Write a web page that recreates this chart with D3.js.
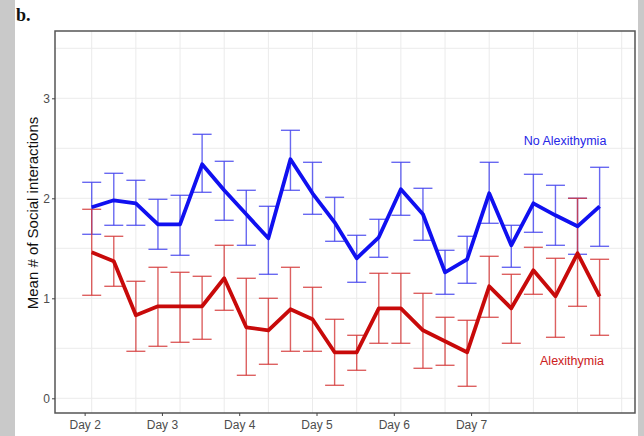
<!DOCTYPE html>
<html>
<head>
<meta charset="utf-8">
<script src="https://cdn.jsdelivr.net/npm/d3@7"></script>
<style>
  html, body { margin: 0; padding: 0; background: #fff; }
  svg { display: block; }
</style>
</head>
<body>
<script>
// ---- data ----
const obsIndex = d3.range(1, 25); // 24 observations
const noAlexMean = [1.91,1.98,1.95,1.74,1.74,2.34,2.08,1.84,1.60,2.39,2.05,1.76,1.40,1.61,2.09,1.84,1.26,1.39,2.05,1.53,1.95,1.83,1.72,1.92];
const noAlexHigh = [2.16,2.25,2.18,1.99,2.03,2.64,2.37,2.08,1.92,2.68,2.36,2.01,1.63,1.79,2.36,2.10,1.48,1.62,2.36,1.73,2.24,2.13,2.00,2.31];
const noAlexLow  = [1.64,1.73,1.73,1.49,1.43,2.06,1.78,1.53,1.24,2.08,1.84,1.57,1.16,1.41,1.83,1.58,1.04,1.15,1.75,1.31,1.66,1.53,1.44,1.52];
const alexMean = [1.46,1.37,0.83,0.92,0.92,0.92,1.20,0.71,0.68,0.89,0.79,0.46,0.46,0.90,0.90,0.68,0.57,0.46,1.12,0.90,1.28,1.02,1.45,1.02];
const alexHigh = [1.89,1.62,1.17,1.31,1.26,1.22,1.53,1.20,1.00,1.31,1.11,0.79,0.63,1.25,1.25,1.05,0.81,0.78,1.42,1.24,1.51,1.40,2.00,1.39];
const alexLow  = [1.03,1.12,0.47,0.52,0.56,0.59,0.88,0.23,0.34,0.47,0.47,0.13,0.28,0.55,0.55,0.30,0.33,0.12,0.81,0.55,1.04,0.61,0.92,0.63];
const dayLabels = ["Day 2","Day 3","Day 4","Day 5","Day 6","Day 7"];
const dayTickPos = [0.68, 4.18, 7.68, 11.18, 14.68, 18.18];
const yTicks = [0, 1, 2, 3];
const xGrid = d3.range(1, 26, 2);
const yGrid = [0, 0.5, 1, 1.5, 2, 2.5, 3, 3.5];

// ---- layout ----
const W = 644, H = 436;
const svg = d3.select("body").append("svg").attr("width", W).attr("height", H);
svg.append("rect").attr("width", W).attr("height", H).attr("fill", "#fff");
svg.append("rect").attr("x", 0).attr("y", 0).attr("width", 15).attr("height", H).attr("fill", "#c9c9c9");
svg.append("rect").attr("x", 638).attr("y", 0).attr("width", 6).attr("height", H).attr("fill", "#c9c9c9");

const panel = {left: 55, right: 635, top: 31, bottom: 413};
const x = d3.scaleLinear().domain([1, 25]).range([91.7, 621.7]);
const y = d3.scaleLinear().domain([0, 3]).range([398.3, 98.3]);

// gridlines
const g = svg.append("g");
g.selectAll(".vg").data(xGrid).join("line")
  .attr("x1", d => x(d)).attr("x2", d => x(d))
  .attr("y1", panel.top).attr("y2", panel.bottom)
  .attr("stroke", "#ebebeb").attr("stroke-width", 1);
g.selectAll(".hg").data(yGrid).join("line")
  .attr("y1", d => y(d)).attr("y2", d => y(d))
  .attr("x1", panel.left).attr("x2", panel.right)
  .attr("stroke", "#ebebeb").attr("stroke-width", 1);

// error bars
function errorBars(means, lows, highs, color, opacity) {
  const eg = svg.append("g").attr("stroke", color).attr("stroke-opacity", opacity).attr("stroke-width", 1.4).attr("fill", "none");
  const cap = 9.5;
  obsIndex.forEach((idx, i) => {
    const cx = x(idx);
    eg.append("line").attr("x1", cx).attr("x2", cx).attr("y1", y(lows[i])).attr("y2", y(highs[i]));
    eg.append("line").attr("x1", cx - cap).attr("x2", cx + cap).attr("y1", y(lows[i])).attr("y2", y(lows[i]));
    eg.append("line").attr("x1", cx - cap).attr("x2", cx + cap).attr("y1", y(highs[i])).attr("y2", y(highs[i]));
  });
}
errorBars(noAlexMean, noAlexLow, noAlexHigh, "#4444ee", 0.8);
errorBars(alexMean, alexLow, alexHigh, "#d43a3a", 0.8);

const line = d3.line().x((d, i) => x(obsIndex[i])).y(d => y(d));
svg.append("path").datum(noAlexMean).attr("d", line)
  .attr("fill", "none").attr("stroke", "#1010f0").attr("stroke-width", 3.8).attr("stroke-linejoin", "round");
svg.append("path").datum(alexMean).attr("d", line)
  .attr("fill", "none").attr("stroke", "#c80a0a").attr("stroke-width", 3.8).attr("stroke-linejoin", "round");

// panel border
svg.append("rect").attr("x", panel.left).attr("y", panel.top)
  .attr("width", panel.right - panel.left).attr("height", panel.bottom - panel.top)
  .attr("fill", "none").attr("stroke", "#555").attr("stroke-width", 1.5);

// axes
const yAxis = d3.axisLeft(y).tickValues(yTicks).tickSize(3).tickPadding(2).tickFormat(d3.format("d"));
const ya = svg.append("g").attr("transform", `translate(${panel.left},0)`).call(yAxis);
ya.select(".domain").remove();
ya.selectAll(".tick line").attr("stroke", "#444");
ya.selectAll("text").attr("fill", "#4d4d4d").style("font-family", "Liberation Sans, Arial, sans-serif").style("font-size", "12px");

const xAxis = d3.axisBottom(x).tickValues(dayTickPos).tickFormat((d, i) => dayLabels[i]).tickSize(3).tickPadding(4);
const xa = svg.append("g").attr("transform", `translate(0,${panel.bottom})`).call(xAxis);
xa.select(".domain").remove();
xa.selectAll(".tick line").attr("stroke", "#444");
xa.selectAll("text").attr("fill", "#4d4d4d").style("font-family", "Liberation Sans, Arial, sans-serif").style("font-size", "12px");

// axis title
svg.append("text").attr("transform", "translate(38,213) rotate(-90)")
  .attr("text-anchor", "middle").attr("fill", "#111")
  .style("font-family", "Liberation Sans, Arial, sans-serif").style("font-size", "15px")
  .text("Mean # of Social interactions");

// series labels
svg.append("text").attr("x", 565).attr("y", 145).attr("text-anchor", "middle")
  .attr("fill", "#2626e6").style("font-family", "Liberation Sans, Arial, sans-serif").style("font-size", "12.5px")
  .text("No Alexithymia");
svg.append("text").attr("x", 572).attr("y", 365).attr("text-anchor", "middle")
  .attr("fill", "#cc2020").style("font-family", "Liberation Sans, Arial, sans-serif").style("font-size", "12.5px")
  .text("Alexithymia");

// panel tag
svg.append("text").attr("x", 16).attr("y", 21)
  .attr("fill", "#111").style("font-family", "Liberation Serif, serif").style("font-weight", "bold").style("font-size", "18px")
  .text("b.");
</script>
</body>
</html>
